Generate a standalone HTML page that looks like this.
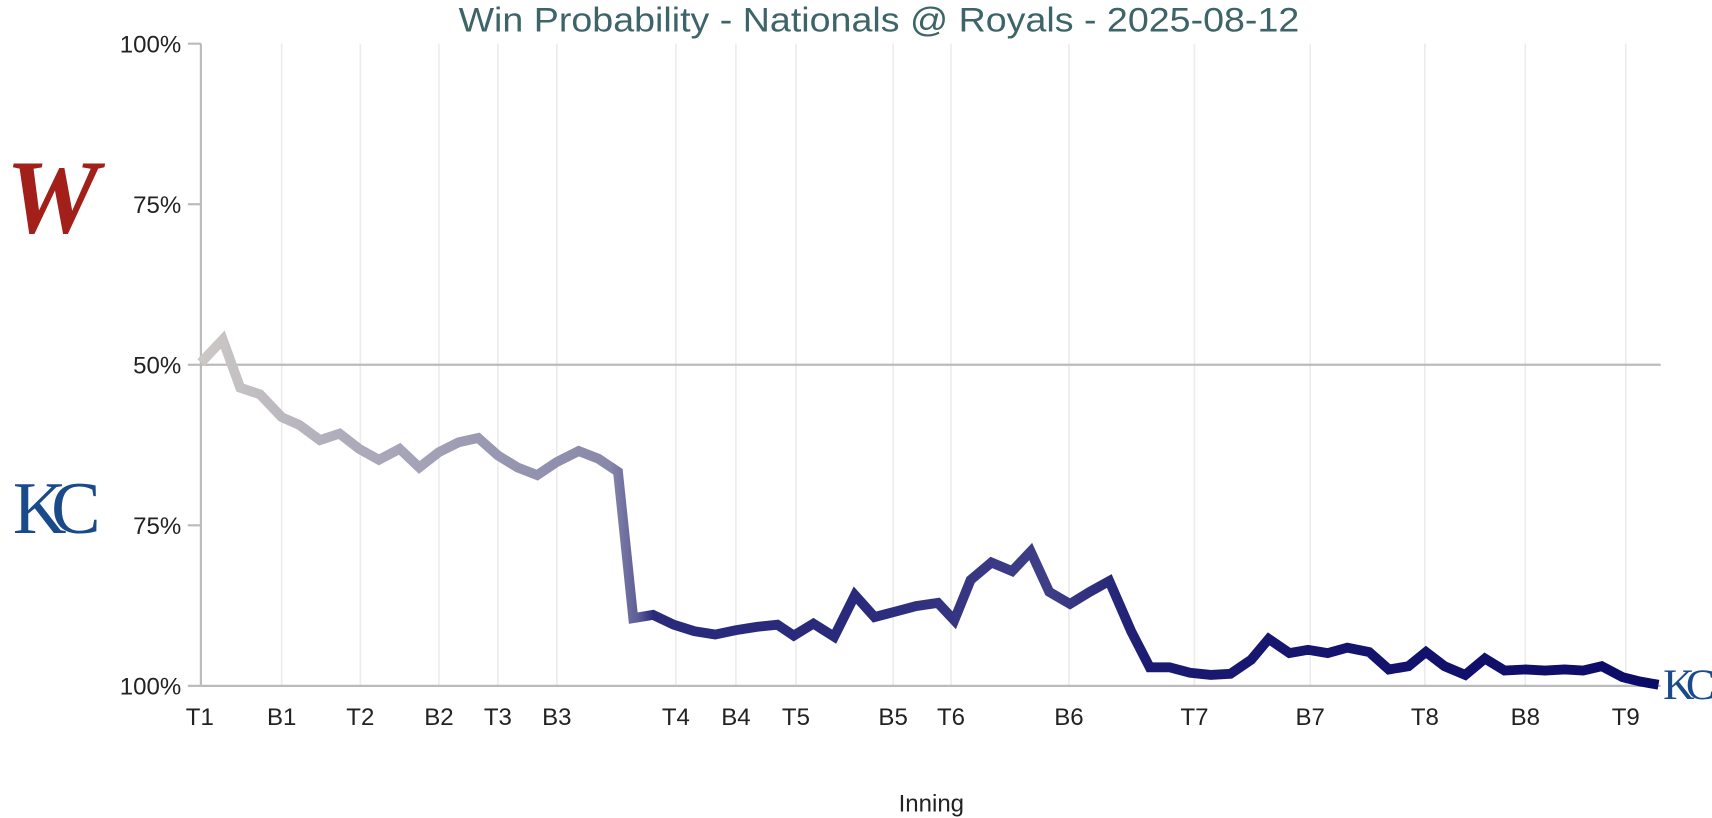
<!DOCTYPE html>
<html><head><meta charset="utf-8"><style>
html,body{margin:0;padding:0;background:#fff;}
svg{display:block;font-family:"Liberation Sans",sans-serif;}
</style></head><body>
<svg width="1712" height="818" viewBox="0 0 1568 749" preserveAspectRatio="none">
<defs>
<linearGradient id="g" gradientUnits="userSpaceOnUse" x1="184" y1="0" x2="1520" y2="0">
<stop offset="0" stop-color="#ccc8c6"/>
<stop offset="0.1" stop-color="#aeacbb"/>
<stop offset="0.28" stop-color="#8888aa"/>
<stop offset="0.3" stop-color="#5c5c98"/>
<stop offset="0.31" stop-color="#2a2a7c"/>
<stop offset="0.45" stop-color="#2a2a7c"/>
<stop offset="0.58" stop-color="#3f3f88"/>
<stop offset="0.65" stop-color="#1a1a72"/>
<stop offset="1" stop-color="#0b0b68"/>
</linearGradient>
</defs>
<text x="805" y="29" text-anchor="middle" font-size="31" fill="#3d6468" textLength="770" lengthAdjust="spacingAndGlyphs">Win Probability - Nationals @ Royals - 2025-08-12</text>
<g stroke="#ececec" stroke-width="1.5">
<line x1="258" y1="40" x2="258" y2="628"/><line x1="330" y1="40" x2="330" y2="628"/><line x1="402" y1="40" x2="402" y2="628"/><line x1="456" y1="40" x2="456" y2="628"/><line x1="510" y1="40" x2="510" y2="628"/><line x1="619" y1="40" x2="619" y2="628"/><line x1="674" y1="40" x2="674" y2="628"/><line x1="729" y1="40" x2="729" y2="628"/><line x1="818" y1="40" x2="818" y2="628"/><line x1="871" y1="40" x2="871" y2="628"/><line x1="979" y1="40" x2="979" y2="628"/><line x1="1094" y1="40" x2="1094" y2="628"/><line x1="1200" y1="40" x2="1200" y2="628"/><line x1="1305" y1="40" x2="1305" y2="628"/><line x1="1397" y1="40" x2="1397" y2="628"/><line x1="1489" y1="40" x2="1489" y2="628"/>
</g>
<g stroke="#bbb" stroke-width="2">
<line x1="184" y1="334" x2="1521" y2="334"/>
<line x1="184" y1="628" x2="1521" y2="628"/>
<line x1="184" y1="40" x2="184" y2="628"/>
<line x1="172" y1="40" x2="184" y2="40"/><line x1="172" y1="187" x2="184" y2="187"/><line x1="172" y1="334" x2="184" y2="334"/><line x1="172" y1="481" x2="184" y2="481"/><line x1="172" y1="628" x2="184" y2="628"/>
</g>
<g font-size="22" fill="#222" text-anchor="end">
<text x="166" y="48">100%</text><text x="166" y="195">75%</text><text x="166" y="342">50%</text><text x="166" y="489">75%</text><text x="166" y="636">100%</text>
</g>
<g font-size="22" fill="#222" text-anchor="middle">
<text x="183" y="664">T1</text><text x="258" y="664">B1</text><text x="330" y="664">T2</text><text x="402" y="664">B2</text><text x="456" y="664">T3</text><text x="510" y="664">B3</text><text x="619" y="664">T4</text><text x="674" y="664">B4</text><text x="729" y="664">T5</text><text x="818" y="664">B5</text><text x="871" y="664">T6</text><text x="979" y="664">B6</text><text x="1094" y="664">T7</text><text x="1200" y="664">B7</text><text x="1305" y="664">T8</text><text x="1397" y="664">B8</text><text x="1489" y="664">T9</text>
<text x="853" y="743">Inning</text>
</g>
<polyline fill="none" stroke="url(#g)" stroke-width="9" stroke-linejoin="miter" points="184,332 204,311 220,355 238,361 258,382 274,389 293,403 311,397 329,411 347,421 366,411 384,428 402,414 420,405 438,401 456,417 474,428 492,435 510,423 530,413 548,420 566,432 580,566 598,563 617,572 636,578 655,581 674,577 693,574 712,572 727,582 745,571 764,583 783,545 801,565 820,560 839,555 859,552 874,568 889,531 908,515 927,523 944,505 961,542 980,553 998,542 1016,532 1036,578 1053,611 1071,611 1090,616 1109,618 1127,617 1146,604 1162,585 1181,598 1198,595 1216,598 1234,593 1254,597 1272,613 1290,610 1306,597 1323,610 1342,618 1360,603 1378,614 1397,613 1415,614 1433,613 1450,614 1467,610 1486,620 1502,624 1519,627"/>
<text x="48" y="213" text-anchor="middle" font-size="96" font-style="italic" font-weight="bold" font-family="Liberation Serif,serif" fill="#a21f1a">W</text>
<text x="45" y="488" text-anchor="middle" font-size="68" font-family="Liberation Serif,serif" fill="#1a4a8a" letter-spacing="-14">KC</text>
<text x="1543" y="640" text-anchor="middle" font-size="40" font-family="Liberation Serif,serif" fill="#1a4a8a" letter-spacing="-8">KC</text>
</svg>
</body></html>
